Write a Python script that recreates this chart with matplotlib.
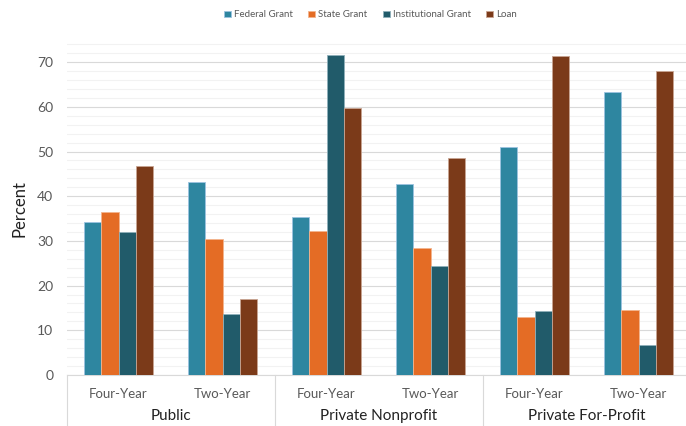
import numpy as np
import matplotlib
matplotlib.use("Agg")
import matplotlib.pyplot as plt
import matplotlib.transforms as mtransforms
from matplotlib.ticker import MultipleLocator

plt.rcParams['font.family'] = ['Lato', 'DejaVu Sans']

sectors = ["Public", "Private Nonprofit", "Private For-Profit"]
levels = ["Four-Year", "Two-Year"]
series = ["Federal Grant", "State Grant", "Institutional Grant", "Loan"]

federal = [34.2, 43.1, 35.3, 42.8, 51.1, 63.4]
state = [36.5, 30.5, 32.2, 28.5, 13.0, 14.5]
institutional = [32.0, 13.7, 71.7, 24.4, 14.3, 6.6]
loan = [46.8, 17.1, 59.7, 48.6, 71.3, 68.0]

colors = ["#2E86A0", "#E46C25", "#215B6A", "#7B3A19"]
edges = ["#9CC3E0", "#F3B48E", "#8FB0BA", "#C9A593"]

fig = plt.figure(figsize=(6.86, 4.26), dpi=100)
ax = fig.add_axes([66.5 / 686, 51 / 426, 624 / 686, 333 / 426])

x = np.arange(len(federal))
width = 0.168
values = [federal, state, institutional, loan]
for i, (name, vals) in enumerate(zip(series, values)):
    ax.bar(x + (i - 1.5) * width, vals, width, color=colors[i], label=name,
           edgecolor=edges[i], linewidth=0.6, zorder=3)

ax.set_xlim(-0.5, 5.5)
ax.set_ylim(0, 74.5)
ax.yaxis.set_major_locator(MultipleLocator(10))
ax.yaxis.set_minor_locator(MultipleLocator(2))
ax.grid(which='major', axis='y', color='#D9D9D9', linewidth=0.8, zorder=0)
ax.grid(which='minor', axis='y', color='#F2F2F2', linewidth=0.8, zorder=0)
for s in ['top', 'right', 'left']:
    ax.spines[s].set_visible(False)
ax.spines['bottom'].set_color('#D9D9D9')
ax.tick_params(axis='y', which='both', length=0, labelsize=10, labelcolor='#595959', pad=9.5)
ax.tick_params(axis='x', length=0, labelbottom=False)
ax.set_ylabel("Percent", fontsize=12, color='#222222', labelpad=7)

trans = mtransforms.blended_transform_factory(ax.transData, ax.transAxes)
for b in [-0.5, 1.5, 3.5, 5.5]:
    ax.plot([b, b], [0, -0.17], transform=trans, color='#D9D9D9', lw=0.8, clip_on=False)
for i in x:
    ax.text(i, -0.057, levels[i % 2], transform=trans, ha='center', va='center',
            fontsize=9.5, color='#595959')
for g, name in enumerate(sectors):
    ax.text(2 * g + 0.5, -0.123, name, transform=trans, ha='center', va='center',
            fontsize=11, color='#222222')

fig.legend(loc='center', bbox_to_anchor=(0.54, 0.965), ncol=4, frameon=False,
           fontsize=7, handlelength=0.7, handleheight=0.7, handletextpad=0.3,
           columnspacing=1.6, labelcolor='#595959')

fig.savefig("out.png", dpi=100)
